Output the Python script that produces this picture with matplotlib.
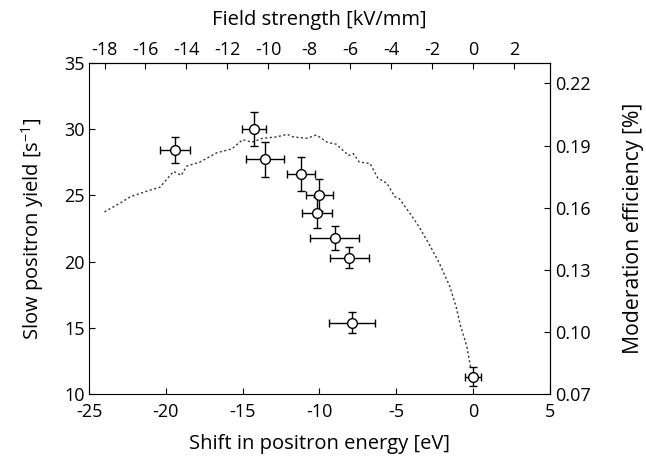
import matplotlib
matplotlib.use("Agg")
import matplotlib.pyplot as plt
from matplotlib.ticker import FormatStrFormatter

plt.rcParams['font.family'] = ['Open Sans', 'DejaVu Sans']
plt.rcParams['axes.unicode_minus'] = False
plt.rcParams['mathtext.fontset'] = 'custom'
plt.rcParams['mathtext.rm'] = 'Open Sans'
plt.rcParams['mathtext.it'] = 'Open Sans'

# Measured data (shift in eV, yield in 1/s) with error bars
shift = [-19.4, -14.25, -13.55, -11.2, -10.0, -10.15, -9.0, -8.05, -7.85, 0.0]
yield_ = [28.4, 30.0, 27.7, 26.6, 25.0, 23.7, 21.8, 20.3, 15.4, 11.3]
shift_err = [1.0, 0.8, 1.25, 0.9, 0.87, 1.0, 1.6, 1.25, 1.5, 0.5]
yield_err = [1.0, 1.25, 1.3, 1.25, 1.2, 1.2, 0.9, 0.77, 0.78, 0.72]

# Dotted curve (shift in eV, in left-axis units)
curve_x = [-24.0, -23.0, -22.3, -21.0, -20.4, -19.5, -19.0, -18.65, -17.8, -16.7,
           -15.7, -15.0, -14.4, -13.7, -12.8, -12.1, -11.7, -10.8, -10.2, -9.5,
           -8.9, -8.1, -7.8, -7.4, -6.7, -6.2, -5.6, -5.1, -4.8, -3.9,
           -3.5, -2.8, -2.2, -1.5, -1.1, -0.8, -0.4, -0.15]
curve_y = [23.75, 24.4, 24.9, 25.4, 25.6, 26.8, 26.5, 27.2, 27.5, 28.2,
           28.5, 29.2, 29.0, 29.3, 29.4, 29.6, 29.4, 29.3, 29.55, 29.0,
           28.85, 28.0, 28.15, 27.5, 27.4, 26.3, 25.9, 24.9, 24.75, 23.3,
           22.6, 21.2, 19.9, 18.1, 16.6, 15.1, 13.6, 12.0]

bottom_ticks = [-25, -20, -15, -10, -5, 0, 5]
left_ticks = [10, 15, 20, 25, 30, 35]
top_ticks = [-18, -16, -14, -12, -10, -8, -6, -4, -2, 0, 2]
right_ticks = [0.07, 0.10, 0.13, 0.16, 0.19, 0.22]

TFS = 13
LFS = 14.5

fig = plt.figure(figsize=(6.46, 4.61), dpi=100)
ax = fig.add_axes([0.138, 0.145, 0.713, 0.719])

ax.plot(curve_x, curve_y, linestyle=(0, (1.5, 1.8)), color='#333333', lw=1.0)
ax.errorbar(shift, yield_, xerr=shift_err, yerr=yield_err, fmt='o',
            mfc='white', mec='black', mew=1.0, ms=7, ecolor='black',
            elinewidth=1.0, capsize=3, capthick=1.0, zorder=3)

ax.set_xlim(-25, 5)
ax.set_ylim(10, 35)
ax.set_xticks(bottom_ticks)
ax.set_yticks(left_ticks)
ax.tick_params(direction='in', length=4, width=0.8, labelsize=TFS)
ax.tick_params(axis='x', pad=6.5)
ax.tick_params(axis='y', pad=3)
for s in ax.spines.values():
    s.set_linewidth(0.8)

ax.set_xlabel('Shift in positron energy [eV]', fontsize=LFS, labelpad=9)
ax.set_ylabel(r'Slow positron yield [s$^{-1}$]', fontsize=LFS, labelpad=13)

# Top axis: field strength
top = ax.secondary_xaxis('top', functions=(lambda e: e * 0.75, lambda f: f / 0.75))
top.set_xticks(top_ticks)
top.tick_params(direction='in', length=4, width=0.8, labelsize=TFS, pad=3)
top.set_xlabel('Field strength [kV/mm]', fontsize=LFS, labelpad=11)

# Right axis: moderation efficiency
right = ax.secondary_yaxis('right', functions=(lambda y: 0.07 + (y - 10) * 0.0064,
                                               lambda r: 10 + (r - 0.07) / 0.0064))
right.set_yticks(right_ticks)
right.yaxis.set_major_formatter(FormatStrFormatter('%.2f'))
right.tick_params(direction='in', length=4, width=0.8, labelsize=TFS, pad=4)
right.set_ylabel('Moderation efficiency [%]', fontsize=15.3, labelpad=23)

fig.savefig('out.png', dpi=100)
